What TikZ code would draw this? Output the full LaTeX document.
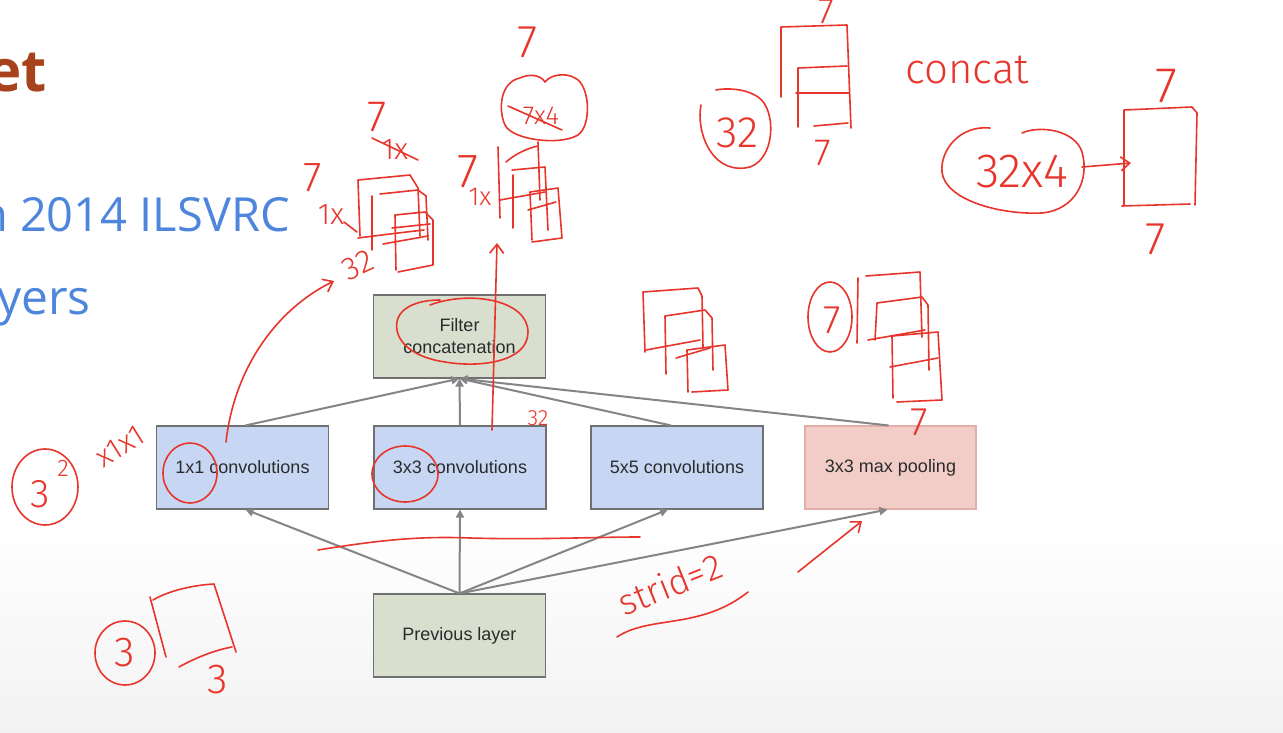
\documentclass[tikz,border=0pt]{standalone}
\usepackage{fontspec}
\setmainfont{Liberation Sans}
\newfontfamily\slide{Open Sans}
\newfontfamily\hand{Fira Sans Light}
\usetikzlibrary{arrows.meta}
\definecolor{ink}{HTML}{E8352C}
\definecolor{boxline}{HTML}{707070}
\definecolor{arrowgray}{HTML}{858585}
\definecolor{convblue}{HTML}{C7D7F3}
\definecolor{greenbox}{HTML}{D8DFCF}
\definecolor{pinkbox}{HTML}{F2CDC8}
\definecolor{pinkline}{HTML}{E3ADA8}
\definecolor{txtgray}{HTML}{2B2B2B}
\definecolor{titlebrown}{HTML}{A8421C}
\definecolor{slideblue}{HTML}{4F86DD}
\begin{document}
\begin{tikzpicture}[x=1pt,y=-1pt,
  box/.style={draw=boxline, line width=1.1pt, minimum width=172pt, minimum height=83pt, inner sep=0pt, text=txtgray, font=\fontsize{18}{22}\selectfont, align=center},
  convbox/.style={box, fill=convblue},
  greenb/.style={box, fill=greenbox},
  poolbox/.style={box, fill=pinkbox, draw=pinkline},
  flow/.style={draw=arrowgray, line width=2pt, -{Triangle[length=8pt,width=8pt]}},
  pen/.style={draw=ink, line width=1.6pt, line cap=round, line join=round},
  penarrow/.style={pen, -{Straight Barb[length=9pt,width=14pt]}},
  hw/.style={text=ink, inner sep=0pt, font=\hand\fontsize{#1}{#1}\selectfont},
  hw/.default=28
]
\useasboundingbox (0,0) rectangle (1283,733);
\fill[white] (0,0) rectangle (1283,733);
\shade[top color=white, bottom color=black!5] (0,520) rectangle (1283,733);

% slide text
\node[anchor=base east, inner sep=0pt, text=titlebrown, font=\slide\bfseries\fontsize{58}{58}\selectfont] (title) at (47,92) {et};
\node[anchor=base east, inner sep=0pt, text=slideblue, font=\slide\fontsize{47}{47}\selectfont] (l1) at (290,231) {n 2014 ILSVRC};
\node[anchor=base west, inner sep=0pt, text=slideblue, font=\slide\fontsize{48}{48}\selectfont] (l2) at (-3,314) {yers};

% diagram
\node[greenb] (concat) at (459.5,336.5) {Filter\\concatenation};
\node[convbox] (c1) at (242.5,467.5) {1x1 convolutions};
\node[convbox] (c3) at (460,467.5) {3x3 convolutions};
\node[convbox] (c5) at (677,467.5) {5x5 convolutions};
\node[poolbox, minimum width=171pt] (mp) at (890.5,467.5) {3x3 max pooling};
\node[greenb] (prev) at (459.5,635.5) {Previous layer};

\coordinate (pt) at (prev.north);
\draw[flow] (pt) -- ([xshift=3pt]c1.south);
\draw[flow] (pt) -- (c3.south);
\draw[flow] (pt) -- ([xshift=-9pt]c5.south);
\draw[flow] (pt) -- ([xshift=-3pt]mp.south);
\draw[flow] ([xshift=3pt]c1.north) -- (concat.south);
\draw[flow] (c3.north) -- (concat.south);
\draw[flow] ([xshift=-6pt]c5.north) -- (concat.south);
\draw[flow] ([xshift=-2pt]mp.north) -- (concat.south);

% ---------- handwriting ----------
% circles on the diagram
\draw[pen] (430,305) .. controls (470,290) and (528,300) .. (528,332) .. controls (528,362) and (480,368) .. (445,362) .. controls (405,356) and (392,335) .. (398,318) .. controls (403,306) and (420,300) .. (440,300);
\draw[pen] (190,473) ellipse [x radius=27, y radius=30];
\draw[pen] (405,474) ellipse [x radius=33, y radius=28];

% left 32 x1x1
\draw[pen] (45,487) ellipse [x radius=33, y radius=38];
\node[hw=40] (t3a) at (40,494) {3};
\node[hw=24] (t2a) at (63,468) {2};
\node[hw=30, rotate=32] (tx11) at (120,446) {x1x1};

% arrow from 1x1 up
\coordinate (a1s) at (226,442);
\coordinate (a1e) at (334,281);
\draw[penarrow] (a1s) .. controls (234,370) and (275,310) .. (a1e);
% arrow from 3x3 up
\coordinate (a3s) at (492,430);
\coordinate (a3e) at (497,243);
\draw[penarrow] (a3s) -- (a3e);
\node[hw=22] (t32s) at (538,418) {32};

% left stack
\node[hw=44] (t7a) at (377,117) {7};
\node[hw=30] (t1xa) at (395,150) {1x};
\draw[pen] (372,138) -- (418,160);
\node[hw=42] (t7b) at (313,178) {7};
\node[hw=30] (t1xb) at (331,215) {1x};
\draw[pen] (344,222) -- (357,232);
\draw[pen] (360,236) -- (358,180) -- (410,175) -- (418,188) -- (420,236);
\draw[pen] (372,250) -- (372,196);
\draw[pen] (380,194) -- (418,190) -- (426,196) -- (428,240);
\draw[pen] (358,238) -- (398,233) -- (424,230);
\draw[pen] (383,244) -- (428,236);
\draw[pen] (396,270) -- (395,215) -- (425,212) -- (433,220) -- (433,265) -- (398,272);
\draw[pen] (392,228) -- (430,224);
\node[hw=32, rotate=25] (t32b) at (358,265) {32};

% right stack with cloud
\node[hw=46] (t7c) at (528,42) {7};
\draw[pen] (520,78) .. controls (500,82) and (498,110) .. (505,125) .. controls (512,140) and (560,146) .. (578,135) .. controls (592,125) and (590,85) .. (575,78) .. controls (565,72) and (550,75) .. (545,82) .. controls (540,74) and (528,74) .. (520,78);
\node[hw=26] (t7x4) at (541,116) {7x4};
\draw[pen] (508,106) -- (562,130);
\node[hw=48] (t7d) at (468,172) {7};
\node[hw=26] (t1xc) at (480,197) {1x};
\draw[pen] (498,147) -- (500,218);
\draw[pen] (506,162) .. controls (515,154) and (528,148) .. (538,146);
\draw[pen] (538,142) -- (540,200);
\draw[pen] (512,170) -- (545,167) -- (548,230);
\draw[pen] (513,228) -- (513,175);
\draw[pen] (500,200) -- (545,192);
\draw[pen] (532,240) -- (530,192) -- (558,188) -- (562,238) -- (532,242);
\draw[pen] (528,210) -- (556,202);

% top right: 32 block
\node[hw=36] (t7e) at (826,12) {7};
\draw[pen] (701,105) .. controls (696,130) and (710,172) .. (745,168) .. controls (775,165) and (778,110) .. (758,97) .. controls (740,85) and (715,90) .. (716,90);
\node[hw=44] (t32c) at (738,133) {32};
\draw[pen] (781,97) -- (781,27) -- (847,25) -- (851,128);
\draw[pen] (798,127) -- (798,68) -- (847,66);
\draw[pen] (796,93) -- (849,93);
\draw[pen] (814,126) -- (848,123);
\node[hw=38] (t7f) at (823,153) {7};
\node[hw=42] (tconcat) at (967,70) {concat};

% 32x4 -> box
\draw[pen] (990,128) .. controls (960,125) and (940,150) .. (942,172) .. controls (945,200) and (1000,215) .. (1042,213) .. controls (1075,210) and (1090,180) .. (1082,152) .. controls (1075,130) and (1040,125) .. (1022,133);
\node[hw=48] (t32x4) at (1022,172) {32x4};
\coordinate (ca) at (1082,167);
\coordinate (cb) at (1131,163);
\draw[penarrow] (ca) -- (cb);
\draw[pen] (1124,205) -- (1124,110) -- (1192,107) -- (1197,113) -- (1195,205);
\draw[pen] (1122,206) -- (1190,204);
\node[hw=50] (t7g) at (1166,86) {7};
\node[hw=46] (t7h) at (1156,239) {7};

% middle stacks
\draw[pen] (645,352) -- (643,292) -- (698,288) -- (702,296) -- (703,347);
\draw[pen] (646,350) -- (700,340);
\draw[pen] (666,374) -- (665,316) -- (705,310) -- (712,318) -- (713,370);
\draw[pen] (676,358) -- (710,348);
\draw[pen] (688,392) -- (687,350) -- (725,345) -- (728,390) -- (692,392);

\draw[pen] (830,317) ellipse [x radius=22, y radius=35];
\node[hw=40] (t7i) at (832,320) {7};
\draw[pen] (858,278) -- (857,343);
\draw[pen] (866,276) -- (920,272) -- (922,337);
\draw[pen] (875,340) -- (877,303) -- (922,297) -- (928,305) -- (929,370);
\draw[pen] (868,340) -- (925,330);
\draw[pen] (893,398) -- (892,336) -- (938,332) -- (942,400) -- (897,402);
\draw[pen] (890,367) -- (938,358);
\node[hw=40] (t7j) at (919,422) {7};

% bottom
\draw[pen] (318,550) .. controls (380,540) and (420,536) .. (470,538) .. controls (540,540) and (590,537) .. (640,537);
\node[hw=36, rotate=22] (tstrid) at (670,584) {strid=2};
\draw[pen] (617,637) .. controls (650,615) and (700,630) .. (748,592);
\coordinate (sa) at (798,572);
\coordinate (sb) at (862,521);
\draw[penarrow] (sa) -- (sb);

\draw[pen] (125,653) ellipse [x radius=30, y radius=32];
\node[hw=42] (t3b) at (125,653) {3};
\draw[pen] (150,597) -- (166,657);
\draw[pen] (153,600) .. controls (170,590) and (195,585) .. (214,584) -- (236,652);
\draw[pen] (179,667) .. controls (195,658) and (215,650) .. (232,647);
\node[hw=42] (t3c) at (218,680) {3};
\end{tikzpicture}
\end{document}
